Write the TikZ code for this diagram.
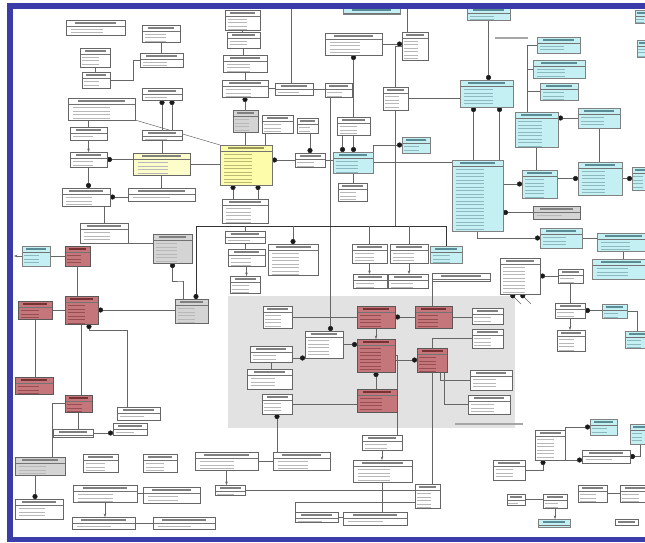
\documentclass[tikz,border=0pt]{standalone}
\usetikzlibrary{arrows.meta,calc}
\pgfdeclarelayer{bg}
\pgfsetlayers{bg,main}
\definecolor{frameblue}{RGB}{58,60,170}
\definecolor{cyanf}{RGB}{196,240,244}
\definecolor{redf}{RGB}{196,118,122}
\definecolor{yelf}{RGB}{252,252,170}
\definecolor{grayreg}{RGB}{226,226,226}
\definecolor{grayf}{RGB}{212,212,212}
\definecolor{cyhd}{RGB}{90,140,150}
\definecolor{cyat}{RGB}{140,185,192}
\definecolor{rdhd}{RGB}{120,50,52}
\definecolor{rdat}{RGB}{150,78,82}
\definecolor{ylhd}{RGB}{150,150,90}
\definecolor{ylat}{RGB}{185,185,115}
\tikzset{
  hdcol/.store in=\hdcol, hdcol=black!50,
  atcol/.store in=\atcol, atcol=black!28,
  cls/.style={draw=black!60, line width=0.5pt, fill=white, inner sep=0pt, outer sep=0pt,
    path picture={
      \coordinate (NW) at (path picture bounding box.north west);
      \coordinate (NE) at (path picture bounding box.north east);
      \draw[\hdcol, line width=1.3pt] ($(NW)!0.15!(NE)+(0pt,-3pt)$) -- ($(NW)!0.85!(NE)+(0pt,-3pt)$);
      \draw[black!55, line width=0.4pt] ($(NW)+(0pt,-6pt)$) -- ($(NE)+(0pt,-6pt)$);
      \foreach \yy in {9.5,13,...,75}
        \draw[\atcol, line width=1pt] ($(NW)!0.08!(NE)+(0pt,-\yy pt)$) -- ($(NW)!0.62!(NE)+(0pt,-\yy pt)$);
    }},
  cy/.style={fill=cyanf, draw=black!50, hdcol=cyhd, atcol=cyat},
  rd/.style={fill=redf, draw=black!65, hdcol=rdhd, atcol=rdat},
  yl/.style={fill=yelf, draw=black!55, hdcol=ylhd, atcol=ylat},
  gr/.style={fill=grayf, draw=black!60},
  dotend/.style={-{Circle[length=5pt,color=black!90]}},
  dotstart/.style={{Circle[length=5pt,color=black!90]}-},
  arr/.style={-{Stealth[length=3.5pt]}},
  dk/.style={black!80, line width=0.9pt},
  lbl/.style={black!35, line width=1.2pt}
}
\newcommand\ubox[6][]{%
  \pgfmathsetmacro\bw{#5-#3}\pgfmathsetmacro\bh{#6-#4}%
  \node[cls,#1,minimum width=\bw pt,minimum height=\bh pt,anchor=north west] (#2) at (#3,#4) {};}
\begin{document}
\begin{tikzpicture}[x=1pt,y=-1pt]
\useasboundingbox (0,0) rectangle (645,543);
% ---- top left
\ubox{t1}{66}{20}{125}{35}
\ubox{t2}{142}{25}{180}{42}
\ubox{t3}{80}{48}{110}{67}
\ubox{t4}{140}{53}{183}{67}
\ubox{t5}{82}{72}{110}{88}
\ubox{t6}{142}{88}{182}{100}
\ubox{t7}{68}{98}{135}{120}
\ubox{t8}{70}{127}{107}{140}
\ubox{t9}{142}{130}{182}{140}
\ubox{t10}{70}{152}{107}{167}
\ubox[fill=yelf!60]{t11}{133}{153}{190}{175}
\ubox[yl]{Y}{220}{145}{272}{185}
% ---- top middle
\ubox{m1}{225}{10}{260}{30}
\ubox{m2}{227}{32}{260}{48}
\ubox{m3}{223}{55}{267}{72}
\ubox{m4}{222}{80}{268}{97}
\ubox{m5}{275}{83}{313}{95}
\ubox{m6}{325}{83}{352}{97}
\ubox[gr]{m7}{233}{110}{258}{132}
\ubox{m8}{262}{115}{293}{133}
\ubox{m9}{297}{118}{318}{133}
\ubox{m10}{337}{117}{370}{135}
\ubox{m11}{295}{153}{325}{167}
\ubox[cy]{c1}{333}{152}{373}{173}
\ubox{m12}{325}{33}{382}{55}
\ubox[cy]{ctop1}{343}{7}{400}{14}
\ubox{m13}{383}{87}{408}{110}
\ubox{m14}{402}{32}{428}{60}
\ubox[cy]{c2}{402}{137}{430}{153}
% ---- top right
\ubox[cy]{ctop2}{467}{7}{510}{20}
\ubox[cy]{c3}{460}{80}{513}{107}
\ubox[cy]{c4}{537}{37}{580}{53}
\ubox[cy]{c5}{533}{60}{585}{78}
\ubox[cy]{c6}{540}{83}{578}{100}
\ubox[cy]{c7}{515}{112}{558}{147}
\ubox[cy]{c8}{578}{108}{620}{128}
\ubox[cy]{c9}{452}{160}{503}{231}
\ubox[cy]{c10}{522}{170}{557}{198}
\ubox[cy]{c11}{578}{162}{622}{195}
\ubox[cy]{c12}{635}{10}{650}{23}
\ubox[cy]{c13}{637}{40}{650}{57}
\ubox[cy]{c14}{632}{167}{650}{190}
% ---- middle band
\ubox{l1}{62}{188}{110}{206}
\ubox{l2}{128}{188}{195}{201}
\ubox{l3}{222}{199}{268}{223}
\ubox{l4}{338}{183}{367}{201}
\ubox[gr]{g1}{533}{206}{580}{219}
\ubox[cy]{c15}{540}{228}{582}{248}
\ubox[cy]{c16}{597}{233}{650}{251}
\ubox[cy]{c17}{592}{259}{650}{279}
\ubox{l5}{80}{223}{128}{243}
\ubox[cy]{cl}{22}{246}{50}{266}
\ubox[rd]{r1}{65}{246}{90}{266}
\ubox[gr]{gb}{153}{234}{192}{263}
\ubox{l6}{225}{231}{265}{243}
\ubox{l7}{228}{249}{265}{266}
\ubox{l8}{230}{276}{260}{293}
\ubox{l9}{268}{244}{318}{275}
\ubox{l10}{352}{244}{387}{263}
\ubox{l11}{390}{244}{428}{263}
\ubox{l12}{353}{274}{387}{288}
\ubox{l13}{388}{274}{428}{288}
\ubox[cy]{c18}{430}{246}{462}{263}
\ubox{l14}{432}{273}{490}{281}
\ubox{l15}{500}{258}{540}{294}
\ubox{l16}{558}{269}{583}{283}
\ubox[gr]{gb2}{175}{299}{208}{323}
\ubox[rd]{r2}{18}{301}{52}{319}
\ubox[rd]{r3}{65}{296}{98}{324}
% ---- grey region
\ubox{i1}{263}{306}{292}{328}
\ubox[rd]{r4}{357}{306}{395}{328}
\ubox[rd]{r5}{415}{306}{452}{328}
\ubox{i2}{305}{331}{343}{358}
\ubox[rd]{r6}{357}{339}{395}{372}
\ubox[rd]{r7}{417}{348}{447}{372}
\ubox{i3}{250}{346}{292}{362}
\ubox{i4}{247}{369}{292}{389}
\ubox{i5}{262}{394}{292}{414}
\ubox[rd]{r8}{357}{389}{397}{412}
\ubox{i6}{472}{308}{503}{324}
\ubox{i7}{472}{329}{503}{348}
\ubox{i8}{470}{370}{512}{390}
\ubox{i9}{468}{395}{510}{414}
% ---- right middle
\ubox{l17}{555}{303}{585}{318}
\ubox[cy]{c19}{602}{304}{627}{318}
\ubox{l18}{557}{330}{585}{351}
\ubox[cy]{c20}{625}{331}{650}{348}
% ---- bottom
\ubox[rd]{r9}{15}{377}{53}{394}
\ubox[rd]{r10}{65}{395}{92}{412}
\ubox{l19}{117}{407}{160}{420}
\ubox{l20}{113}{423}{147}{435}
\ubox{l21}{53}{429}{93}{437}
\ubox[gr]{g2}{15}{457}{65}{475}
\ubox{l22}{83}{454}{118}{472}
\ubox{l23}{143}{454}{177}{472}
\ubox{l24}{195}{452}{258}{470}
\ubox{l25}{273}{452}{330}{470}
\ubox{l26}{15}{499}{63}{519}
\ubox{l27}{73}{485}{137}{502}
\ubox{l28}{143}{487}{200}{503}
\ubox{l29}{72}{517}{135}{529}
\ubox{l30}{153}{517}{215}{529}
\ubox{l31}{215}{485}{245}{495}
\ubox{l32}{295}{512}{338}{522}
\ubox{l33}{343}{512}{407}{525}
\ubox{l34}{362}{435}{402}{450}
\ubox{l35}{353}{460}{412}{482}
\ubox{l36}{415}{484}{440}{508}
\ubox{l37}{535}{430}{565}{460}
\ubox[cy]{c21}{590}{419}{617}{435}
\ubox[cy]{c22}{630}{424}{650}{444}
\ubox{l38}{582}{450}{630}{463}
\ubox{l39}{493}{460}{525}{480}
\ubox{l40}{578}{485}{607}{502}
\ubox{l41}{620}{485}{650}{502}
\ubox{l42}{507}{494}{525}{505}
\ubox{l43}{543}{494}{567}{508}
\ubox[cy]{c23}{538}{519}{570}{527}
\ubox{l44}{615}{519}{638}{525}
% free ends
\coordinate (tp1) at (291,9);
\coordinate (tp2) at (407,9);
\coordinate (clarr) at (14,256);
\coordinate (h1) at (196,226);
\coordinate (bus) at (527,45);
\coordinate (fe1) at (521,304);
\coordinate (fe2) at (531,304);
\begin{pgfonlayer}{bg}
\fill[white] (0,0) rectangle (645,543);
\fill[grayreg] (228,296) rectangle (515,428);
\draw[lbl] (455,424) -- (523,424);
\draw[lbl] (495,38) -- (528,38);
\begin{scope}[black!60, line width=0.5pt]
% top left
\draw (t2.south) -- (t2.south |- t4.north);
\draw (t3.south) -- (t3.south |- t5.north);
\draw (t5.east) -- ++(23,0) |- (t4.west);
\draw[dotstart] (t6.south) -- (t6.south |- t9.north);
\draw[dotstart] ([xshift=10pt]t6.south) -- ([xshift=10pt]t6.south |- t9.north);
\draw (t9.south) -- (t9.south |- t11.north);
\draw (t8.north) -- (t8.north |- t7.south);
\draw[arr] (t8.south) -- (t8.south |- t10.north);
\draw[dotstart] (t10.east) -- (t11.west |- t10.east);
\draw (t11.east) -- (Y.west |- t11.east);
\draw (t7.south east) -- (Y.north west);
% top middle
\draw (m1.south) -- (m1.south |- m2.north);
\draw (m2.south) -- (m2.south |- m3.north);
\draw (m3.south) -- (m3.south |- m4.north);
\draw[dotstart] (m4.south) -- (m4.south |- m7.north);
\draw (m7.south) -- (m7.south |- Y.north);
\draw ([xshift=-12pt]m8.south) -- ([xshift=-12pt]m8.south |- Y.north);
\draw (m4.east) -- (m5.west |- m4.east);
\draw (m5.east) -- (m6.west |- m5.east);
\draw (tp1) -- (tp1 |- m5.north);
\draw (tp2) -- (tp2 |- m14.north);
\draw[dotend] (m12.east) -- (m14.west |- m12.east);
\draw[dotstart] (m12.south) -- (m12.south |- m10.north);
\draw[dotend] ([xshift=-8pt]m6.south) -- ([xshift=-8pt]m6.south |- i2.north);
\draw (m14.west) -| (m13.north);
\draw (m13.east) -- (c3.west |- m13.east);
\draw (m13.south) -- (m13.south |- h1);
\draw[dotstart] (m11.north) -- (m11.north |- m9.south);
\draw[dotend] ([xshift=-11pt]m10.south) -- ([xshift=-11pt]m10.south |- c1.north);
\draw[dotend] (m10.south) -- (m10.south |- c1.north);
\draw[dotstart] (Y.east |- m11.west) -- (m11.west);
\draw (m11.east) -- (c1.west |- m11.east);
\draw (c1.east) -- (c9.west |- c1.east);
\draw[dotstart] (c2.west) -| (c1.north east);
\draw (c1.south) -- (c1.south |- l4.north);
% top right
\draw[dotend] (ctop2.south) -- (ctop2.south |- c3.north);
\draw[dotstart] ([xshift=-13pt]c3.south) -- ([xshift=-13pt]c3.south |- c9.north);
\draw[dotstart] ([xshift=13pt]c3.south) -- ([xshift=13pt]c3.south |- c9.north);
\draw (c4.west) -- (c4.west -| bus) -- (bus |- c7.north);
\draw (c5.west) -- (c5.west -| bus);
\draw (c6.west) -- (c6.west -| bus);
\draw[dotstart] (c7.east |- c8.west) -- (c8.west);
\draw[dotend] (c9.east |- c10.west) -- (c10.west);
\draw[dotend] (c10.east |- c11.west) -- (c11.west);
\draw[dotend] (c11.east) -- (c14.west |- c11.east);
\draw[dotstart] (c9.east |- g1.west) -- (g1.west);
\draw[dotend] (c9.south) |- (c15.west);
\draw (c15.east) -- (c16.west |- c15.east);
\draw (c7.south) -- (c7.south |- c10.north);
\draw (c8.south) -- (c8.south |- c11.north);
\draw (c16.south) -- (c16.south |- c17.north);
% middle
\draw[dotend] (t10.south) -- (t10.south |- l1.north);
\draw[dotstart] (l1.east) -- (l2.west |- l1.east);
\draw (t11.south) -- (t11.south |- l2.north);
\draw[dotstart] ([xshift=-13pt]Y.south) -- ([xshift=-13pt]Y.south |- l3.north);
\draw[dotstart] ([xshift=12pt]Y.south) -- ([xshift=12pt]Y.south |- l3.north);
\draw[dk,dotend] (c18.north) |- (h1) -- (h1 |- gb2.north);
\draw[dotend] (l9.north |- h1) -- (l9.north);
\draw (l10.north |- h1) -- (l10.north);
\draw (l11.north |- h1) -- (l11.north);
\draw (l6.north |- h1) -- (l6.north);
\draw[arr] (l10.south) -- (l10.south |- l12.north);
\draw[arr] (l11.south) -- (l11.south |- l13.north);
\draw (l6.south) -- (l6.south |- l7.north);
\draw[arr] (l7.south) -- (l7.south |- l8.north);
\draw (l5.south east) -- (gb.west |- l5.south east);
\draw (l5.north) -- (l5.north |- l1.south);
\draw[arr] (cl.west) -- (clarr);
\draw (r1.west) -- (cl.east |- r1.west);
\draw[line width=0.8pt] (r1.south) -- (r1.south |- r3.north);
\draw (r3.west) -- (r2.east |- r3.west);
\draw[dotstart] (r3.east) -- (gb2.west |- r3.east);
\draw[dotstart] (gb.south) |- ($(gb.south)!0.5!(gb2.north)$) -| ([xshift=-8pt]gb2.north);
\draw (r2.south) -- (r2.south |- r9.north);
\draw (r3.south) -- (r3.south |- r10.north);
\draw[dotstart] ([xshift=7.5pt]r3.south) -- ++(0,6) -| ([xshift=-11pt]l19.north);
\draw[dotstart] ([xshift=-9pt]l15.south) -- (fe1);
\draw[dotstart] ([xshift=1pt]l15.south) -- (fe2);
\draw (l14.south west) -- (l14.south west |- r5.north);
\draw[dotstart] (l15.east) -- (l16.west |- l15.east);
\draw (l16.south) -- (l16.south |- l17.north);
\draw[dotstart] (l17.east) -- (c19.west |- l17.east);
\draw[arr] (l17.south) -- (l17.south |- l18.north);
\draw (c19.east) -| (c20.north);
% grey region
\draw (i1.east) -- (r4.west |- i1.east);
\draw[dotend] (i2.east) -- (r6.west |- i2.east);
\draw[dotstart] (i2.south west) -- (i3.east |- i2.south west);
\draw[arr] (r4.south) -- (r4.south |- r6.north);
\draw[dotend] (r5.west) -- (r4.east |- r5.west);
\draw[dotend] (r6.east |- r7.west) -- (r7.west);
\draw[dotstart] (r6.south) -- (r6.south |- r8.north);
\draw (i5.east) -- (r8.west |- i5.east);
\draw (r5.east) -- (i6.west |- r5.east);
\draw (i7.west) -| (r7.north);
\draw (i8.west) -| ([xshift=8pt]r7.south);
\draw (i9.west) -| ([xshift=12pt]r7.south);
\draw (i3.south) -- (i3.south |- i4.north);
\draw (r6.east) -| ([xshift=-5pt]l34.north east);
% bottom
\draw (r10.south) -- (r10.south |- l21.north);
\draw (r10.west) -| ([xshift=12pt]g2.north);
\draw[dotend] ([xshift=-5pt]g2.south) -- ([xshift=-5pt]g2.south |- l26.north);
\draw[dotend] (l21.east) -- (l20.west |- l21.east);
\draw (l27.east) -- (l28.west |- l27.east);
\draw[arr] (l27.south) -- (l27.south |- l29.north);
\draw (l30.west) -- (l29.east |- l30.west);
\draw[arr] (l24.south) -- (l24.south |- l31.north);
\draw (l24.east) -- (l25.west |- l24.east);
\draw[dotstart] (i5.south) -- (i5.south |- l25.north);
\draw[line width=0.8pt] (l31.east) -- (l36.west |- l31.east);
\draw ([yshift=-6pt]l36.west) -| (l32.north west);
\draw[line width=0.8pt] (r7.south) -- (r7.south |- l36.north);
\draw[arr] (l34.south) -- (l34.south |- l35.north);
\draw (l35.south) -- (l35.south |- l33.north);
\draw (l32.east) -- (l33.west |- l32.east);
\draw[dotend] (l37.east) |- (c21.west);
\draw[dotend] (l37.south east) -- (l38.west |- l37.south east);
\draw[dotstart] (l38.east) -| (c22.south);
\draw[dotstart] ([xshift=-7pt]l37.south) |- (l39.east);
\draw (l40.east) -- (l41.west |- l40.east);
\draw (l42.east) -- (l43.west |- l42.east);
\draw[arr] (l43.south) -- (l43.south |- c23.north);
\end{scope}
\end{pgfonlayer}
% frame
\draw[frameblue, line width=5.5pt] (9.8,5.8) rectangle (660,539.5);
\end{tikzpicture}
\end{document}
